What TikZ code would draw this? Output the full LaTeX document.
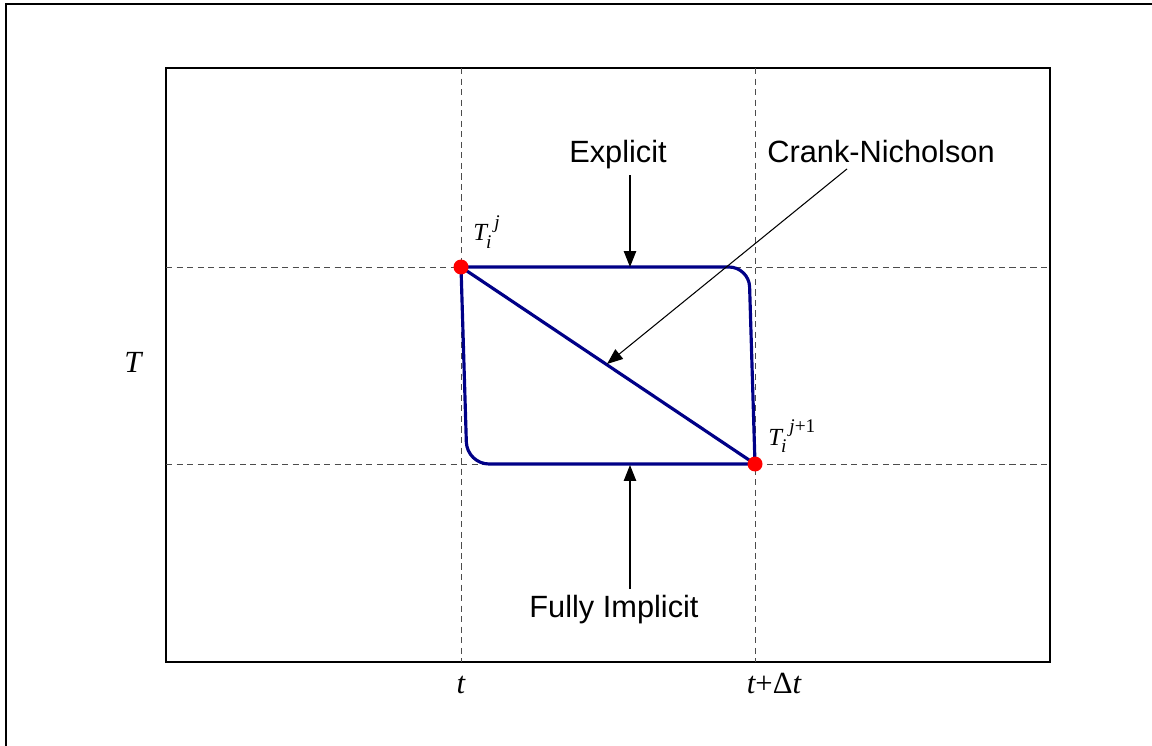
\documentclass[tikz,border=0pt]{standalone}
\usepackage{fontspec}
\setmainfont{Liberation Sans}
\newfontfamily\tnr{Liberation Serif}
\usepackage{tikz}
\usetikzlibrary{positioning,arrows.meta,calc}
\definecolor{navy}{RGB}{0,0,135}
\newcommand{\scr}{\fontsize{11}{11}\selectfont}
\newcommand{\idx}[3]{#1\kern-0.04em\raisebox{-0.32em}{\scr #2}\kern0.12em\raisebox{0.5em}{\scr #3}}

\begin{document}
\begin{tikzpicture}[x=0.02cm, y=-0.02cm, font=\fontsize{17.5}{21}\selectfont]
  \tikzstyle{grid}=[black!70,line width=0.5pt,dash pattern=on 3.5pt off 2.5pt]
  \tikzstyle{scheme}=[draw=navy,line width=1.8pt]
  \tikzstyle{dot}=[circle,fill=red,inner sep=0pt,minimum size=0.3cm]
  \tikzstyle{lbl}=[anchor=base,inner sep=3pt]
  \tikzstyle{var}=[anchor=base,font=\tnr\itshape\fontsize{17.5}{21}\selectfont]
  \tikzstyle{pt}=[anchor=base west,inner sep=0pt,font=\tnr\itshape\fontsize{14}{16}\selectfont]
  \tikzstyle{arr}=[-{Triangle[length=9pt,width=7pt]},line width=0.6pt]
  \useasboundingbox (0,0) rectangle (1152,746);
  \clip (0,0) rectangle (1152,746);
  % frames
  \draw[line width=1.2pt] (6,4) rectangle (1180,780);
  \draw[line width=0.7pt] (166,68) rectangle (1050,662);
  % grid points
  \coordinate (Tj) at (461,267);
  \coordinate (Tjp) at (755,464);
  \coordinate (cTR) at (749,267);
  \coordinate (cBL) at (467,464);
  \draw[grid] (Tj |- 0,68) -- (Tj |- 0,662);
  \draw[grid] (Tjp |- 0,68) -- (Tjp |- 0,662);
  \draw[grid] (Tj -| 166,0) -- (Tj -| 1050,0);
  \draw[grid] (Tjp -| 166,0) -- (Tjp -| 1050,0);
  % the three schemes
  \draw[scheme,rounded corners=0.4cm] (Tj) -- (cTR) -- (Tjp);
  \draw[scheme,rounded corners=0.44cm] (Tjp) -- (cBL) -- (Tj);
  \draw[scheme] (Tj) -- (Tjp);
  \node[dot] (dotj) at (Tj) {};
  \node[dot] (dotjp) at (Tjp) {};
  % labels
  \node[lbl] (expl) at (618,163) {Explicit};
  \node[lbl] (crank) at (881,163) {Crank-Nicholson};
  \node[lbl] (fully) at (614,617) {Fully Implicit};
  \coordinate (explTip) at (630,267);
  \coordinate (cnTip) at (607,364);
  \coordinate (fullyTip) at (630,465);
  \draw[arr] (expl.south -| explTip) -- (explTip);
  \draw[arr] ([xshift=-0.68cm]crank.south) -- (cnTip);
  \draw[arr] (fully.north -| fullyTip) -- (fullyTip);
  % axis names
  \node[var] (Tlab) at (133,372) {T};
  \node[var] (tlab) at (461,693) {t};
  \node[var] (tdlab) at (774,693) {t{\upshape+Δ}t};
  \node[pt] (Tjlab) at (473,241) {\idx{T}{i}{j}};
  \node[pt] (Tjplab) at (768,445) {\idx{T}{i}{j{\upshape+1}}};
\end{tikzpicture}
\end{document}
